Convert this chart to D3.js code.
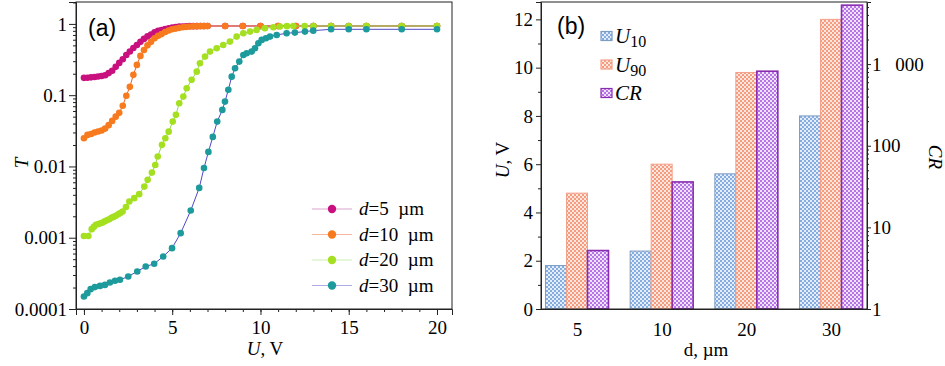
<!DOCTYPE html>
<html><head><meta charset="utf-8">
<script src="https://cdn.jsdelivr.net/npm/d3@7"></script>
<style>
html,body{margin:0;padding:0;background:#fff;}
svg text{font-family:"Liberation Serif","Times New Roman",serif;fill:#000;}
.sans{font-family:"Liberation Sans",Arial,sans-serif !important;}
</style></head>
<body><svg id="chart" width="945" height="366"></svg>
<script>
// ---------- Panel (a) data ----------
const seriesNames = ["d=5", "d=10", "d=20", "d=30"];
const u5 = [0,0.2,0.4,0.6,0.8,1.0,1.2,1.4,1.6,1.8,2.0,2.2,2.4,2.6,2.8,3.0,3.2,3.4,3.6,3.8,4.0,4.2,4.4,4.6,4.8,5.0,5.2,5.4,5.6,5.8,6.0,6.2,6.4,6.6,6.8,7.0,8,9,10,11,12,13,14,15,16,18,20];
const t5 = [0.175,0.176,0.178,0.18,0.183,0.186,0.19,0.204,0.22,0.25,0.284,0.32,0.367,0.41,0.46,0.507,0.56,0.616,0.668,0.71,0.76,0.80,0.82,0.85,0.87,0.89,0.905,0.915,0.92,0.925,0.93,0.93,0.93,0.935,0.935,0.935,0.935,0.935,0.935,0.935,0.935,0.935,0.935,0.935,0.935,0.935,0.935];
const u10 = [0,0.2,0.4,0.6,0.8,1.0,1.2,1.4,1.6,1.8,2.0,2.2,2.4,2.6,2.8,3.0,3.2,3.4,3.6,3.8,4.0,4.2,4.4,4.6,4.8,5.0,5.2,5.4,5.6,5.8,6.0,6.2,6.4,6.6,6.8,7.0,8,9,10,11,12,13,14,16,18,20];
const t10 = [0.0249,0.0277,0.0286,0.0299,0.031,0.032,0.034,0.038,0.0436,0.050,0.0565,0.071,0.098,0.131,0.193,0.266,0.356,0.43,0.50,0.56,0.63,0.68,0.72,0.77,0.81,0.84,0.86,0.88,0.90,0.91,0.92,0.925,0.93,0.93,0.93,0.935,0.935,0.935,0.935,0.935,0.935,0.935,0.935,0.935,0.935,0.935];
const u20 = [0,0.25,0.44,0.56,0.68,0.82,0.94,1.06,1.18,1.3,1.43,1.56,1.68,1.81,1.94,2.06,2.19,2.38,2.57,2.85,3.13,3.42,3.61,3.85,4.04,4.18,4.42,4.61,4.80,5.03,5.21,5.40,5.63,5.82,6.10,6.39,6.57,6.86,7.14,7.52,7.89,8.27,8.65,9.03,9.41,9.78,10.25,10.73,11.1,11.5,11.86,12.5,13,14,15,16,18,20];
const t20 = [0.00106,0.00106,0.00132,0.00142,0.00152,0.00156,0.0016,0.00163,0.0017,0.00176,0.00182,0.0019,0.00196,0.00203,0.00213,0.00222,0.00233,0.0027,0.00322,0.00359,0.00409,0.00522,0.00649,0.0082,0.0105,0.0138,0.0201,0.0249,0.0308,0.0426,0.053,0.0772,0.0955,0.125,0.164,0.214,0.281,0.348,0.409,0.456,0.507,0.565,0.664,0.741,0.78,0.824,0.87,0.90,0.92,0.93,0.935,0.935,0.935,0.935,0.935,0.935,0.935,0.935];
const u30 = [0,0.19,0.38,0.62,0.91,1.19,1.47,1.76,2.04,2.51,3.02,3.5,3.98,4.49,4.99,5.48,6.05,6.53,6.8,7.05,7.3,7.55,7.84,7.99,8.18,8.37,8.56,8.8,9.03,9.22,9.5,9.69,9.88,10.07,10.31,10.54,10.92,11.48,11.95,12.52,12.99,14,15,16,18,20];
const t30 = [1.5e-4,1.67e-4,1.9e-4,2.03e-4,2.11e-4,2.18e-4,2.35e-4,2.49e-4,2.57e-4,2.86e-4,3.36e-4,3.95e-4,4.31e-4,5.45e-4,7.14e-4,1.16e-3,2.41e-3,5.0e-3,0.0095,0.016,0.026,0.0426,0.0622,0.0813,0.119,0.182,0.239,0.296,0.367,0.388,0.409,0.456,0.536,0.597,0.63,0.664,0.70,0.74,0.755,0.78,0.805,0.84,0.84,0.84,0.84,0.84];
const xTicksA = [0,5,10,15,20];
const yTicksA = [0.0001,0.001,0.01,0.1,1];
const yTickLabelsA = ["0.0001","0.001","0.01","0.1","1"];

// ---------- Panel (b) data ----------
const categories = ["5","10","20","30"];
const U10 = [1.8,2.4,5.6,8.0];
const U90 = [4.8,6.0,9.8,12.0];
const CR  = [5.2,36,818,5270];
const yTicksB = [0,2,4,6,8,10,12];
const crTicks = [1,10,100,1000];
const crTickLabels = ["1","10","100","1 000"];

// ---------- Styles ----------
const markerColors = ["#c8107f","#f77a1e","#a4e020","#1c9a9c"];
const lineColors = ["#b0308f","#e8602a","#8fd850","#5048c8"];

const svg = d3.select("#chart");
const defs = svg.append("defs");
function checker(id, bg, fg){
  const p = defs.append("pattern").attr("id",id).attr("width",4).attr("height",4).attr("patternUnits","userSpaceOnUse");
  p.append("rect").attr("width",4).attr("height",4).attr("fill",bg);
  p.append("rect").attr("width",2).attr("height",2).attr("fill",fg);
  p.append("rect").attr("x",2).attr("y",2).attr("width",2).attr("height",2).attr("fill",fg);
}
checker("pU10","#e4eef9","#86ace0");
checker("pU90","#fde6de","#f59c80");
checker("pCR","#f1e2fb","#b575e6");

// ================= Panel (a) =================
const A = {l:76, r:452, t:2, b:309};
const xA = d3.scaleLinear().domain([-0.45,20.85]).range([A.l,A.r]);
const yA = d3.scaleLog().domain([1e-4,2.03]).range([A.b,A.t]);
const gA = svg.append("g");

gA.append("rect").attr("x",A.l).attr("y",A.t).attr("width",A.r-A.l).attr("height",A.b-A.t)
  .attr("fill","none").attr("stroke","#222").attr("stroke-width",1);

const xMinorA = d3.range(0,21,1);
gA.append("g").attr("transform",`translate(0,${A.b})`)
  .call(d3.axisBottom(xA).tickValues(xMinorA).tickSize(3).tickFormat(""))
  .call(g=>{g.select(".domain").remove();});
gA.append("g").attr("transform",`translate(0,${A.b})`)
  .call(d3.axisBottom(xA).tickValues(xTicksA).tickSize(6).tickPadding(6).tickFormat(d3.format("d")))
  .call(g=>{g.select(".domain").attr("stroke","#222"); g.selectAll("text").style("font-size","19px").style("font-family","Liberation Serif");});
const yMinorA = [];
for(let e=-4;e<=0;e++){for(let k=2;k<=9;k++){const v=k*Math.pow(10,e); if(v<=2.03) yMinorA.push(v);}}
gA.append("g").attr("transform",`translate(${A.l},0)`)
  .call(d3.axisLeft(yA).tickValues(yMinorA).tickSize(3).tickFormat(""))
  .call(g=>g.select(".domain").remove());
gA.append("g").attr("transform",`translate(${A.l},0)`)
  .call(d3.axisLeft(yA).tickValues(yTicksA).tickSize(7).tickPadding(2).tickFormat((d,i)=>yTickLabelsA[i]))
  .call(g=>{g.select(".domain").attr("stroke","#222"); g.selectAll("text").style("font-size","19px").style("font-family","Liberation Serif");});
gA.selectAll(".tick line").attr("stroke","#222");

const seriesA = [[u5,t5],[u10,t10],[u20,t20],[u30,t30]];
const line = d3.line().x(d=>xA(d[0])).y(d=>yA(d[1]));
seriesA.forEach(([u,t],i)=>{
  const pts = u.map((v,j)=>[v,t[j]]);
  gA.append("path").datum(pts).attr("d",line).attr("fill","none").attr("stroke",lineColors[i]).attr("stroke-width",1);
  gA.append("g").selectAll("circle").data(pts).join("circle")
    .attr("cx",d=>xA(d[0])).attr("cy",d=>yA(d[1])).attr("r",3.3).attr("fill",markerColors[i]);
});

const legA = gA.append("g");
seriesNames.forEach((name,i)=>{
  const y = 209 + i*25.5;
  legA.append("line").attr("x1",312).attr("x2",352).attr("y1",y).attr("y2",y).attr("stroke",lineColors[i]).attr("stroke-opacity",0.45).attr("stroke-width",1);
  legA.append("circle").attr("cx",332).attr("cy",y).attr("r",4.2).attr("fill",markerColors[i]);
  const parts = name.split("=");
  const tx = legA.append("text").attr("x",359).attr("y",y+6).style("font-size","19px");
  tx.append("tspan").style("font-style","italic").text(parts[0]);
  tx.append("tspan").text("="+parts[1]+"\u00a0\u00a0\u00b5m");
});

gA.append("text").attr("class","sans").attr("x",88).attr("y",36).style("font-size","23px").text("(a)");
const xtA = gA.append("text").attr("x",265).attr("y",355).attr("text-anchor","middle").style("font-size","19px");
xtA.append("tspan").style("font-style","italic").text("U");
xtA.append("tspan").text(", V");
gA.append("text").attr("transform","translate(28,163) rotate(-90)").attr("text-anchor","middle")
  .style("font-size","19px").style("font-style","italic").text("T");

// ================= Panel (b) =================
const B = {l:541, r:867, t:2, b:309};
const xB = d3.scalePoint().domain(categories).range([B.l,B.r]).padding(0.425);
const yB = d3.scaleLinear().domain([0,12.72]).range([B.b,B.t]);
const yCR = d3.scaleLog().domain([1,5760]).range([B.b,B.t]);
const gB = svg.append("g");
const bw = 21;

const bars = [
  {key:"U10", vals:U10, scale:yB, off:-1.5, fill:"url(#pU10)", stroke:"#7d9cc4", sw:1},
  {key:"U90", vals:U90, scale:yB, off:-0.5, fill:"url(#pU90)", stroke:"#f4a08a", sw:1},
  {key:"CR",  vals:CR,  scale:yCR, off:0.5, fill:"url(#pCR)", stroke:"#8a2cb0", sw:1.6}
];
bars.forEach(s=>{
  gB.append("g").selectAll("rect").data(s.vals).join("rect")
    .attr("x",(d,i)=>xB(categories[i])+s.off*bw)
    .attr("y",d=>s.scale(d))
    .attr("width",bw)
    .attr("height",d=>B.b-s.scale(d))
    .attr("fill",s.fill).attr("stroke",s.stroke).attr("stroke-width",s.sw);
});

gB.append("rect").attr("x",B.l).attr("y",B.t).attr("width",B.r-B.l).attr("height",B.b-B.t)
  .attr("fill","none").attr("stroke","#222").attr("stroke-width",1);

gB.append("g").attr("transform",`translate(${B.l},0)`)
  .call(d3.axisLeft(yB).tickValues([1,3,5,7,9,11]).tickSize(3).tickFormat(""))
  .call(g=>g.select(".domain").remove());
gB.append("g").attr("transform",`translate(${B.l},0)`)
  .call(d3.axisLeft(yB).tickValues(yTicksB).tickSize(5).tickPadding(3))
  .call(g=>{g.select(".domain").attr("stroke","#222"); g.selectAll("text").style("font-size","19px").style("font-family","Liberation Serif");});
const crMinor = [];
for(let e=0;e<=3;e++){for(let k=2;k<=9;k++){const v=k*Math.pow(10,e); if(v<=5760) crMinor.push(v);}}
gB.append("g").attr("transform",`translate(${B.r},0)`)
  .call(d3.axisRight(yCR).tickValues(crMinor).tickSize(2).tickFormat(""))
  .call(g=>g.select(".domain").remove());
gB.append("g").attr("transform",`translate(${B.r},0)`)
  .call(d3.axisRight(yCR).tickValues(crTicks).tickSize(4).tickPadding(1).tickFormat((d,i)=>crTickLabels[i]))
  .call(g=>{g.select(".domain").attr("stroke","#222"); g.selectAll("text").style("font-size","19px").style("font-family","Liberation Serif").style("word-spacing","9px");});
gB.append("g").attr("transform",`translate(0,${B.b})`)
  .call(d3.axisBottom(xB).tickSize(0).tickPadding(14))
  .call(g=>{g.select(".domain").attr("stroke","#222"); g.selectAll("text").style("font-size","19px").style("font-family","Liberation Serif");});
gB.selectAll(".tick line").attr("stroke","#222");

const legB = [["U","10","url(#pU10)","#7d9cc4"],["U","90","url(#pU90)","#f4a08a"],["CR","","url(#pCR)","#8a2cb0"]];
legB.forEach((d,i)=>{
  const y = 36 + i*28.5;
  gB.append("rect").attr("x",601).attr("y",y-4.5).attr("width",11).attr("height",9)
    .attr("fill",d[2]).attr("stroke",d[3]).attr("stroke-width",1.2);
  const tx = gB.append("text").attr("x",615).attr("y",y+7).style("font-size","21px");
  tx.append("tspan").style("font-style","italic").text(d[0]);
  if(d[1]) tx.append("tspan").attr("dy",4).style("font-size","16px").text(d[1]);
});
gB.append("text").attr("class","sans").attr("x",557).attr("y",34).style("font-size","23px").text("(b)");

const ytB = gB.append("text").attr("transform","translate(509,160) rotate(-90)").attr("text-anchor","middle").style("font-size","19px");
ytB.append("tspan").style("font-style","italic").text("U");
ytB.append("tspan").text(", V");
gB.append("text").attr("transform","translate(929,157) rotate(90)").attr("text-anchor","middle")
  .style("font-size","19px").style("font-style","italic").text("CR");
gB.append("text").attr("x",706).attr("y",356).attr("text-anchor","middle").style("font-size","19px").text("d, \u00b5m");
</script>
</body></html>
